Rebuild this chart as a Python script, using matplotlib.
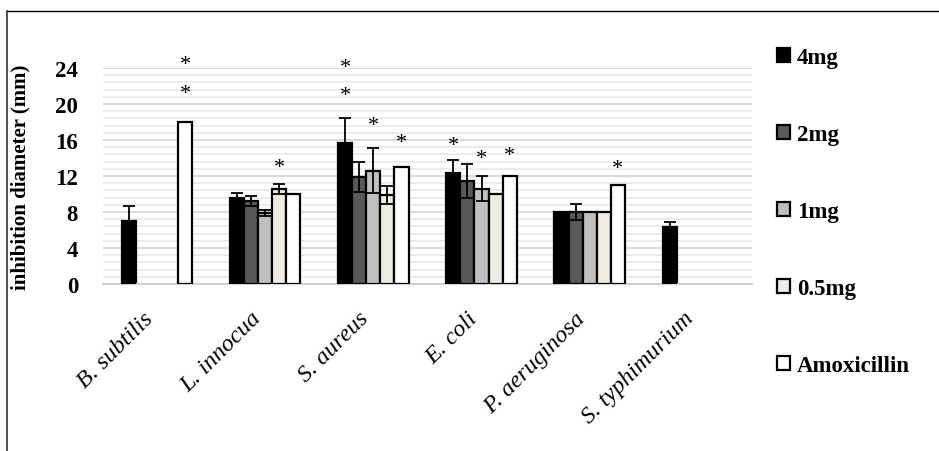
import matplotlib.pyplot as plt
import numpy as np
from matplotlib.patches import Patch
from matplotlib.lines import Line2D

plt.rcParams['font.family'] = 'Liberation Serif'

bacteria = ['B. subtilis', 'L. innocua', 'S. aureus', 'E. coli', 'P. aeruginosa', 'S. typhimurium']
series = ['4mg', '2mg', '1mg', '0.5mg', 'Amoxicillin']
colors = ['#000000', '#595959', '#bfbfbf', '#eeece1', '#ffffff']

# mean inhibition diameter (mm), one list per series
d4 = [7.0, 9.5, 15.7, 12.3, 8.0, 6.35]
d2 = [0, 9.25, 11.9, 11.4, 8.0, 0]
d1 = [0, 7.9, 12.6, 10.6, 8.0, 0]
d05 = [0, 10.6, 9.9, 10.0, 8.0, 0]
amox = [18.0, 10.0, 13.0, 12.0, 11.0, 0]
# standard deviations
e4 = [1.7, 0.6, 2.8, 1.45, 0, 0.5]
e2 = [0, 0.55, 1.7, 1.9, 0.9, 0]
e1 = [0, 0.35, 2.5, 1.35, 0, 0]
e05 = [0, 0.55, 1.0, 0, 0, 0]
eam = [0, 0, 0, 0, 0, 0]
# significance stars: (bacterium index, series index, y)
stars = [(0, 4, 21.4), (0, 4, 24.6), (1, 3, 13.2),
         (2, 0, 21.1), (2, 0, 24.3), (2, 2, 17.8), (2, 4, 15.9),
         (3, 0, 15.6), (3, 2, 14.1), (3, 4, 14.5), (4, 4, 13.0)]

values = [d4, d2, d1, d05, amox]
errors = [e4, e2, e1, e05, eam]

fig = plt.figure(figsize=(9.39, 4.52), dpi=100)
ax = fig.add_axes([0.1097, 0.3695, 0.691, 0.4778])

x = np.arange(len(bacteria))
w = 0.13
for i, (vals, errs) in enumerate(zip(values, errors)):
    pos = x + (i - 2) * w
    edges = ['black' if v > 0 else '#d0d0d0' for v in vals]
    ax.bar(pos, vals, w, color=colors[i], edgecolor=edges, linewidth=1.6, zorder=3)
    vals = np.array(vals)
    errs = np.array(errs)
    m = errs > 0
    ax.errorbar(pos[m], vals[m], yerr=errs[m], fmt='none', ecolor='black',
                elinewidth=1.3, capsize=4, capthick=1.3, zorder=4)

for b, s, y in stars:
    ax.text(x[b] + (s - 2) * w, y - 0.2, '*', ha='center', va='center',
            fontsize=16, clip_on=False, zorder=5)

ax.set_xlim(-0.5, len(bacteria) - 0.5)
ax.set_ylim(0, 24)
ax.set_yticks(np.arange(0, 25, 4))
ax.set_yticks(np.arange(0, 24.01, 0.8), minor=True)
ax.grid(axis='y', which='major', color='#d9d9d9', linewidth=1.5, zorder=0)
ax.grid(axis='y', which='minor', color='#ebebeb', linewidth=1.3, zorder=0)
ax.set_axisbelow(True)
for sp in ['top', 'right', 'left']:
    ax.spines[sp].set_visible(False)
ax.spines['bottom'].set_color('#d0d0d0')
ax.spines['bottom'].set_linewidth(1.5)
ax.tick_params(axis='y', which='both', length=0, pad=18, labelsize=16.5)
ax.tick_params(axis='x', length=0, pad=17)
for lab in ax.get_yticklabels():
    lab.set_fontweight('bold')
ax.set_xticks(x)
ax.set_xticklabels(bacteria, rotation=45, ha='right', fontstyle='italic', fontsize=17.5)
ax.set_ylabel('inhibition diameter (mm)', fontsize=15, fontweight='bold', labelpad=18)

handles = [Patch(facecolor=c, edgecolor='black', linewidth=1.6) for c in colors]
fig.legend(handles, series, loc='upper left', bbox_to_anchor=(0.806, 0.94),
           frameon=False, handlelength=0.55, handleheight=0.55, handletextpad=0.3,
           labelspacing=2.45, prop={'weight': 'bold', 'size': 16.5})

# outer frame (top and left edges visible)
fig.add_artist(Line2D([0.0075, 1.0], [1 - 12 / 452, 1 - 12 / 452], color='black', linewidth=1.0))
fig.add_artist(Line2D([0.0075, 0.0075], [0.0, 1 - 12 / 452], color='#333333', linewidth=1.2))

fig.savefig('out.png', dpi=100)
